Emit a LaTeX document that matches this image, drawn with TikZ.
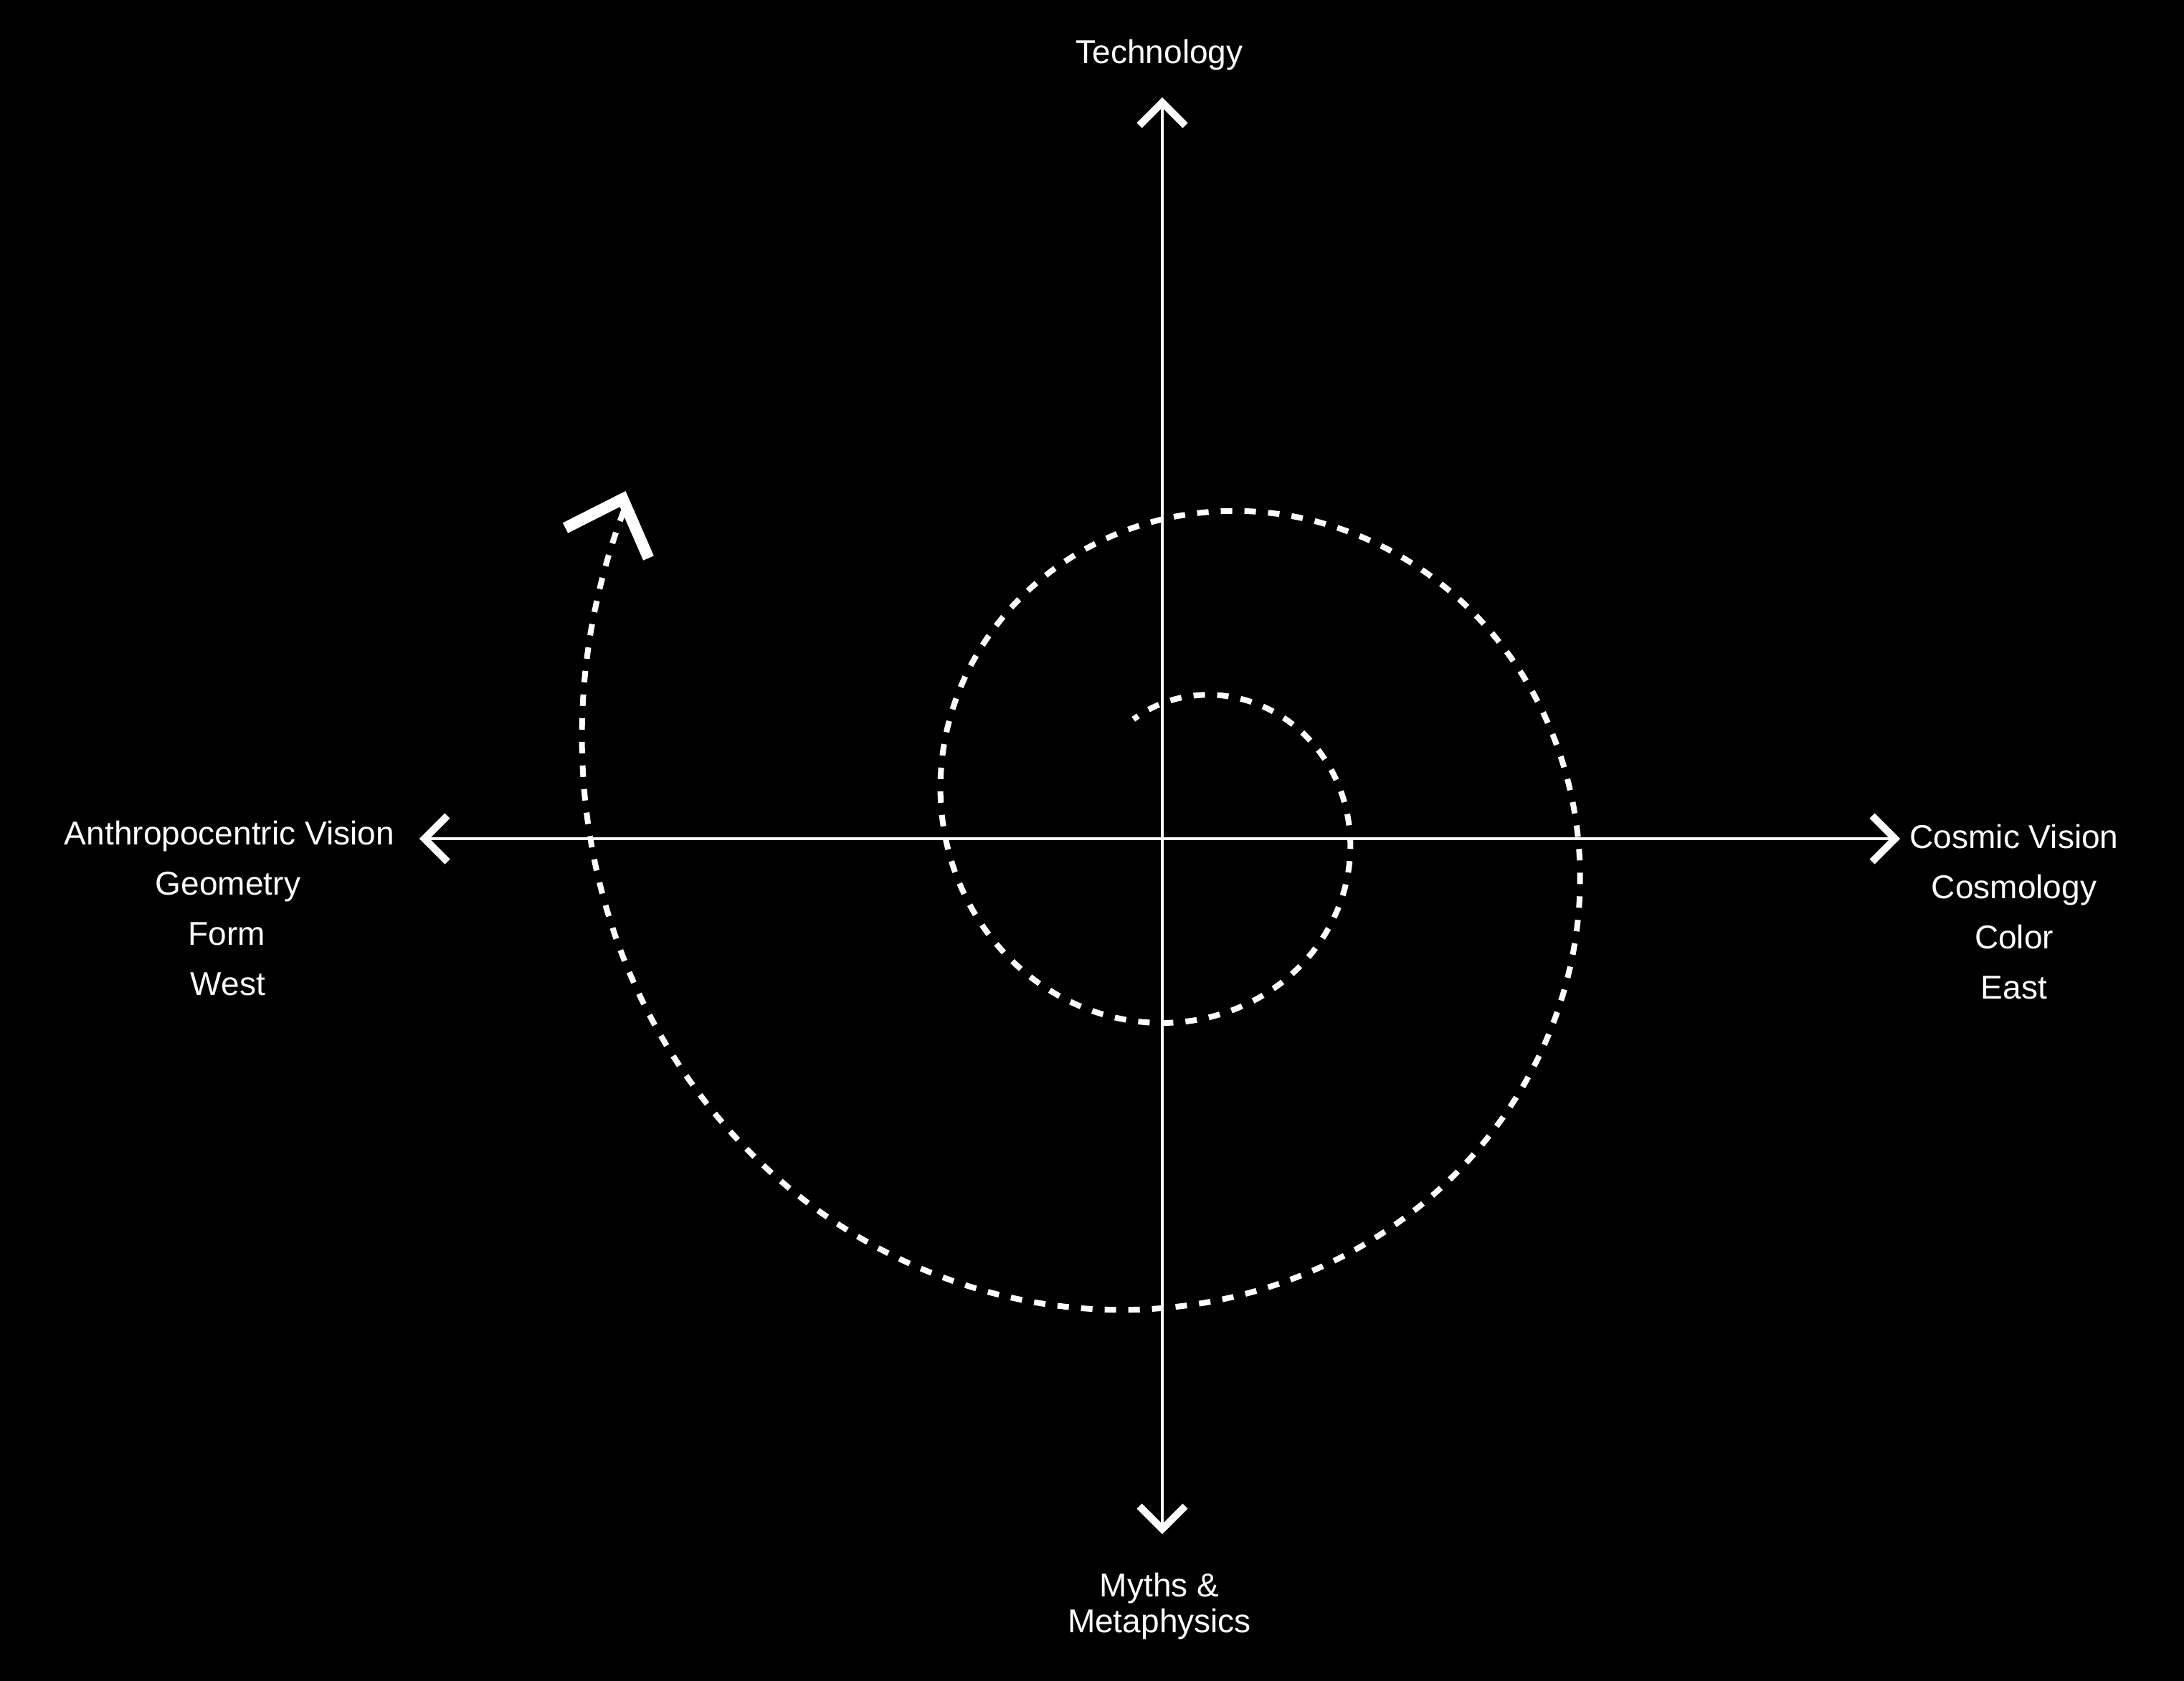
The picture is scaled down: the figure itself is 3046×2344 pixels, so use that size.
\documentclass[tikz,border=0pt]{standalone}
\usepackage{fontspec}
\setmainfont{Liberation Sans}
\begin{document}
\begin{tikzpicture}[x=0.01cm,y=-0.01cm,
  axis/.style={draw=white,line width=0.04cm},
  chev/.style={draw=white,line width=0.1cm,line join=miter,miter limit=10},
  lab/.style={text=white,anchor=base,inner sep=0pt,font=\fontsize{13.1}{15}\selectfont},
  spiral/.style={draw=white,line width=0.08cm,dash pattern=on 0.16cm off 0.17cm,dash phase=0.08cm},
  spchev/.style={draw=white,line width=0.16cm,line join=miter,miter limit=10}]
\useasboundingbox (0,0) rectangle (3046,2344);
\fill[black] (-20,-20) rectangle (3066,2364);
% axes
\coordinate (O) at (1621,1170);
\coordinate (W) at (592,1170);
\coordinate (E) at (2643,1170);
\coordinate (N) at (1621,143);
\coordinate (S) at (1621,2133);
\draw[axis] (W) -- (E);
\draw[axis] (N) -- (S);
\draw[chev] ([shift={(32,-32)}]W) -- (W) -- ([shift={(32,32)}]W);
\draw[chev] ([shift={(-32,-32)}]E) -- (E) -- ([shift={(-32,32)}]E);
\draw[chev] ([shift={(-32,32)}]N) -- (N) -- ([shift={(32,32)}]N);
\draw[chev] ([shift={(-32,-32)}]S) -- (S) -- ([shift={(32,-32)}]S);
% spiral
\draw[spiral] plot[domain=118.7:-569,samples=500,smooth,variable=\t]
  ({1660+177*exp(0.0024697*(90-\t))*cos(\t)},{1148-177*exp(0.0024697*(90-\t))*sin(\t)});
\coordinate (A1) at (788.5,736.5);
\coordinate (AT) at (868.5,696);
\coordinate (A2) at (904.5,778.5);
\draw[spchev] (A1) -- (AT) -- (A2);
% labels
\node[lab] (tech) at (1617,88) {Technology};
\node[lab] (myth1) at (1617,2227) {Myths \&};
\node[lab] (myth2) at (1617,2277) {Metaphysics};
\node[lab] (w1) at (320,1178) {Anthropocentric Vision};
\node[lab] (w2) at (318,1248) {Geometry};
\node[lab] (w3) at (316,1318) {Form};
\node[lab] (w4) at (318,1388) {West};
\node[lab] (e1) at (2809,1183) {Cosmic Vision};
\node[lab] (e2) at (2809,1253) {Cosmology};
\node[lab] (e3) at (2809,1323) {Color};
\node[lab] (e4) at (2809,1393) {East};
\end{tikzpicture}
\end{document}
